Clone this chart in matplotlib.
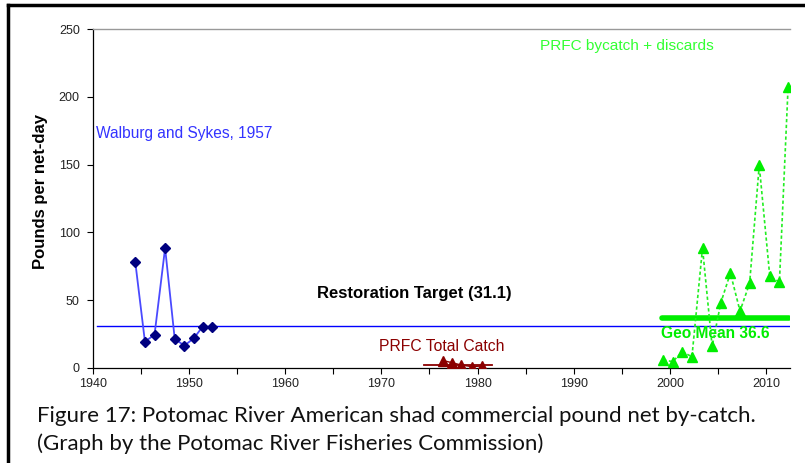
import matplotlib
matplotlib.use("Agg")
import matplotlib.pyplot as plt
from matplotlib.lines import Line2D
from matplotlib.ticker import MultipleLocator

plt.rcParams['font.family'] = ['Liberation Sans', 'DejaVu Sans']

# Walburg and Sykes, 1957
walburg_years = [1944.4, 1945.4, 1946.4, 1947.5, 1948.5, 1949.5, 1950.5, 1951.4, 1952.4]
walburg_vals = [78, 19.5, 24.5, 88.5, 21.5, 16.5, 22, 30.5, 30]

# PRFC Total Catch
prfc_total_years = [1976.4, 1977.3, 1978.3, 1979.4, 1980.5]
prfc_total_vals = [5.5, 4.0, 2.2, 1.0, 1.5]
prfc_total_mean = 2.5
prfc_total_span = [1974.4, 1981.5]

# PRFC bycatch + discards
bycatch_years = [1999.3, 2000.3, 2001.3, 2002.3, 2003.4, 2004.4, 2005.3, 2006.3,
                 2007.3, 2008.3, 2009.3, 2010.4, 2011.4, 2012.3]
bycatch_vals = [6, 4.7, 12, 8.3, 88.5, 16, 48, 70, 42, 62.5, 149.5, 67.5, 63.5, 207]
geo_mean = 36.6
geo_span = [1999.2, 2012.4]

restoration_target = 31.1
target_span = [1940.4, 2012.5]

fig = plt.figure(figsize=(8.05, 4.63), dpi=100)
ax = fig.add_axes([93/805, 1-368/463, (790-93)/805, (368-29)/463])

ax.plot(target_span, [restoration_target]*2, color='#0000FF', lw=1.0, zorder=2)
ax.plot(walburg_years, walburg_vals, color='#4a4aff', lw=1.3, marker='D',
        markersize=5, markerfacecolor='#000080', markeredgecolor='#000080', zorder=3)
ax.plot(prfc_total_span, [prfc_total_mean]*2, color='#8b0000', lw=1.3, zorder=3)
ax.plot(prfc_total_years, prfc_total_vals, color='#8b0000', lw=1.0, marker='^',
        markersize=6.5, markerfacecolor='#8b0000', markeredgecolor='#8b0000', zorder=4)
ax.plot(geo_span, [geo_mean]*2, color='#00ee00', lw=4.0, solid_capstyle='round', zorder=3)
ax.plot(bycatch_years, bycatch_vals, color='#22ee22', lw=1.2, ls=(0, (2, 1.5)), marker='^',
        markersize=6.5, markerfacecolor='#00ee00', markeredgecolor='#00ee00', zorder=4)

ax.set_xlim(1940, 2012.5)
ax.set_ylim(0, 250)
ax.xaxis.set_major_locator(MultipleLocator(10))
ax.xaxis.set_minor_locator(MultipleLocator(5))
ax.yaxis.set_major_locator(MultipleLocator(50))
ax.tick_params(axis='both', which='major', labelsize=9, length=4.5, width=0.8, color='black',
               labelcolor='#222222')
ax.tick_params(axis='x', which='minor', length=4.5, width=0.8)
ax.tick_params(axis='y', pad=5)
ax.tick_params(axis='x', pad=2.5)
ax.spines['right'].set_visible(False)
ax.spines['top'].set_color('#999999')
ax.spines['top'].set_linewidth(1.0)
ax.spines['left'].set_linewidth(0.9)
ax.spines['bottom'].set_linewidth(0.9)

ax.set_ylabel('Pounds per net-day', fontsize=12, fontweight='bold')
ax.yaxis.set_label_coords(-0.064, 0.52)

ax.text(1940.3, 173, 'Walburg and Sykes, 1957', color='#3333ff', fontsize=11.2,
        ha='left', va='center')
ax.text(1963.3, 54.6, 'Restoration Target (31.1)', color='black', fontsize=12,
        fontweight='bold', ha='left', va='center')
ax.text(1969.75, 16.2, 'PRFC Total Catch', color='#8b0000', fontsize=11.3,
        ha='left', va='center')
ax.text(1986.5, 237.5, 'PRFC bycatch + discards', color='#33ff33', fontsize=11.1,
        ha='left', va='center')
ax.text(1999.1, 25.8, 'Geo Mean 36.6', color='#00ee00', fontsize=11.2,
        fontweight='bold', ha='left', va='center')

fig.text(37/805, 1-416/463, 'Figure 17: Potomac River American shad commercial pound net by-catch.',
         fontsize=16, family=['Lato', 'DejaVu Sans'], ha='left', va='center', color='#111111')
fig.text(37/805, 1-444/463, '(Graph by the Potomac River Fisheries Commission)',
         fontsize=16, family=['Lato', 'DejaVu Sans'], ha='left', va='center', color='#111111')

fig.add_artist(Line2D([8/805, 1.0], [1-5/463, 1-5/463], color='black', lw=2.5,
                      transform=fig.transFigure))
fig.add_artist(Line2D([8/805, 8/805], [0, 1-5/463], color='black', lw=2.5,
                      transform=fig.transFigure))

fig.savefig('out.png', dpi=100)
